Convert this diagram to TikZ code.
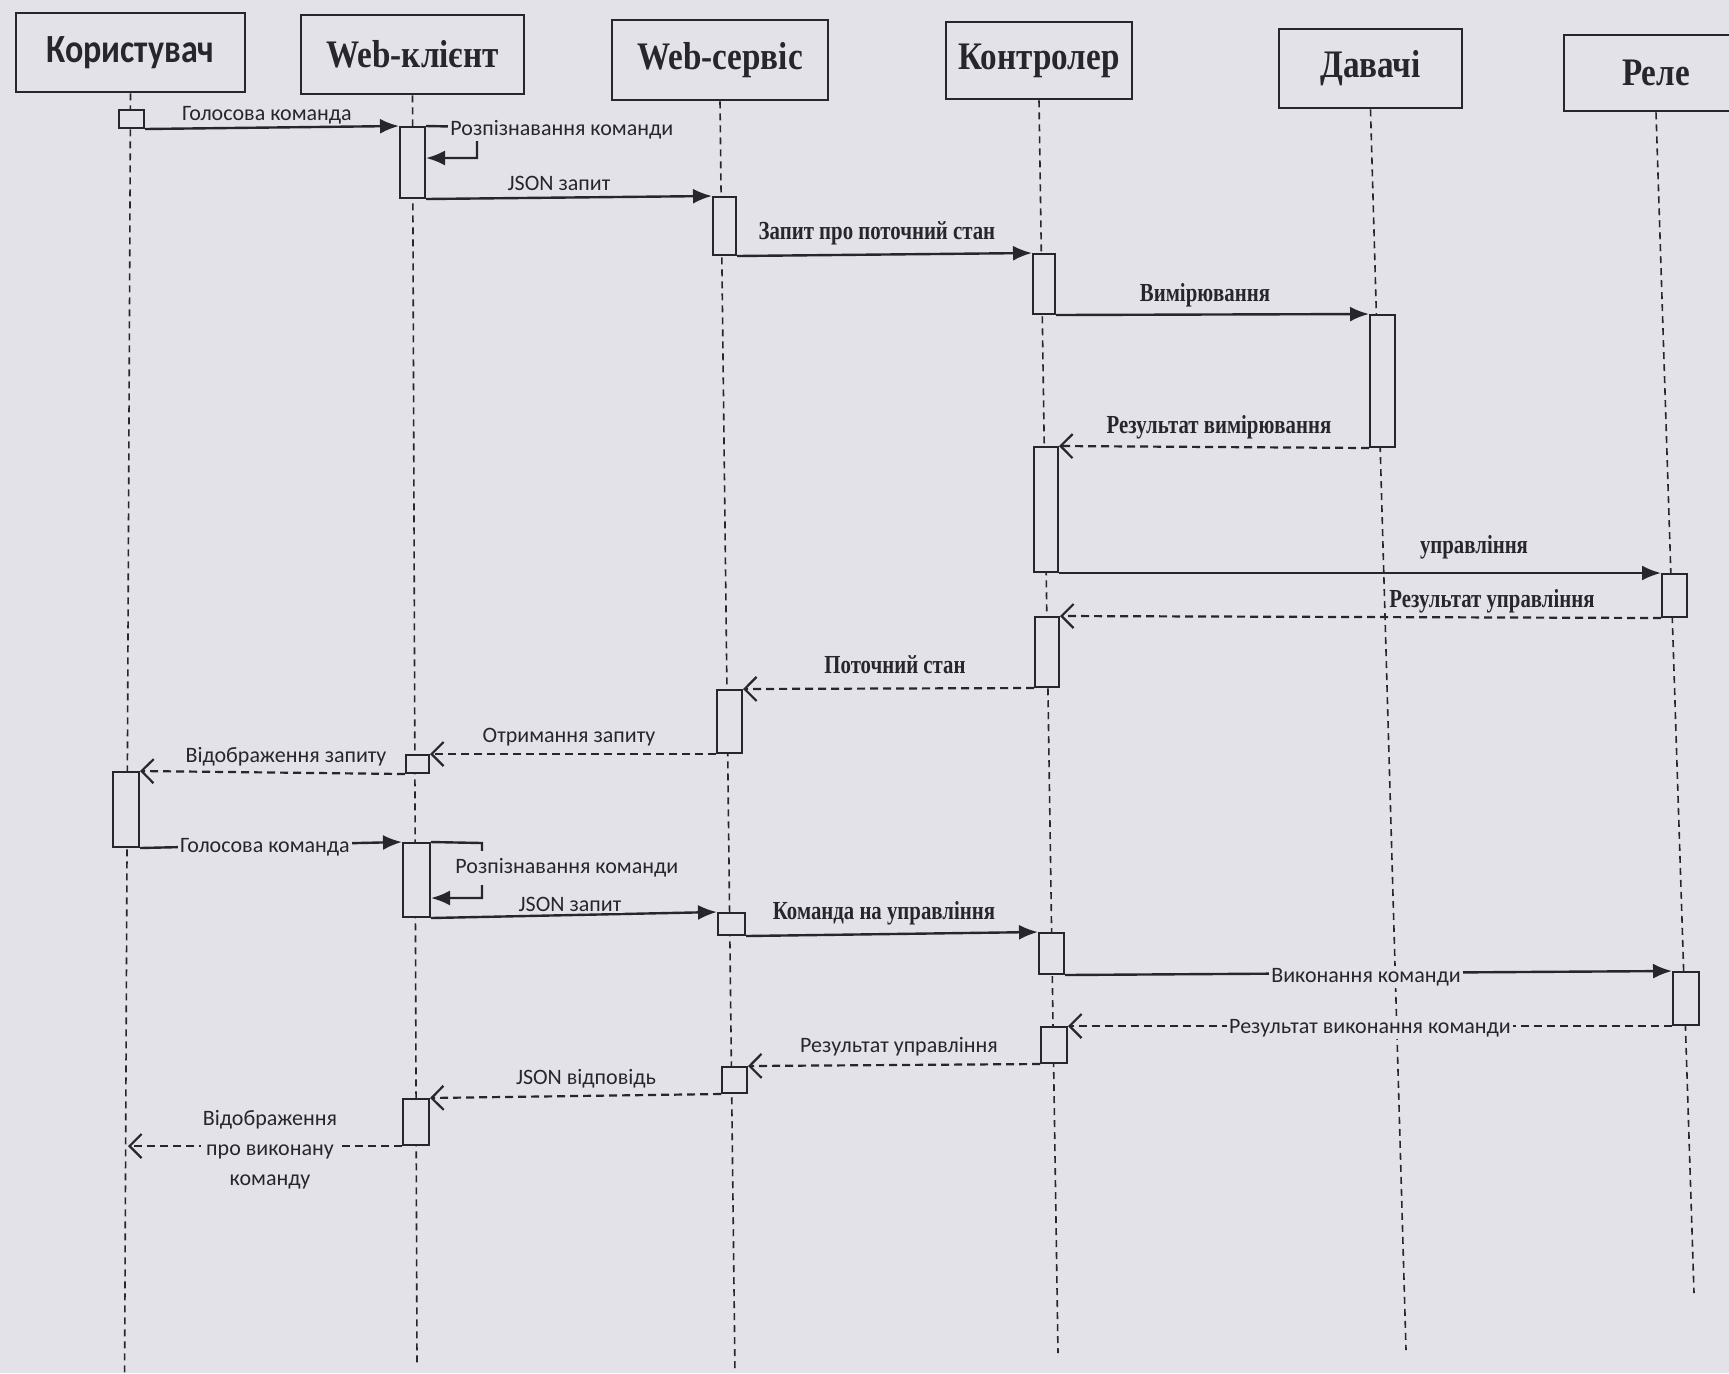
\documentclass[tikz,border=0pt]{standalone}
\usepackage{fontspec}
\setmainfont{Liberation Serif}
\newfontfamily\hdrserif[FakeStretch=0.85]{Liberation Serif}
\newfontfamily\hdrsans[FakeStretch=0.85]{Carlito}
\newfontfamily\lblsans{Carlito}
\newfontfamily\lblserif[FakeStretch=0.8]{Liberation Serif}
\usetikzlibrary{arrows.meta,fit}

\definecolor{paper}{RGB}{227,226,233}
\definecolor{ink}{RGB}{38,38,44}

\tikzset{
  hdr/.style={draw=ink, line width=1.3pt, fill=paper, inner sep=0pt, text=ink},
  hdrs/.style={hdr, font=\hdrsans\bfseries\fontsize{20}{22}\selectfont},
  hdrt/.style={hdr, font=\hdrserif\bfseries\fontsize{19.5}{22}\selectfont},
  act/.style={draw=ink, line width=1pt, fill=paper, inner sep=0pt},
  life/.style={draw=ink, line width=0.8pt, dash pattern=on 3.5pt off 2.5pt},
  call/.style={draw=ink, line width=1.2pt, -{Latex[length=9.5pt,width=7.5pt]}},
  reply/.style={draw=ink, line width=1.1pt, dash pattern=on 4pt off 2.5pt,
                -{Straight Barb[length=6pt,width=12pt]}},
  tsans/.style={font=\lblsans\fontsize{11}{15}\selectfont, text=ink, inner sep=1pt},
  tserif/.style={font=\lblserif\bfseries\fontsize{13}{15}\selectfont, text=ink, inner sep=1pt},
  onl/.style={fill=paper},
}

\begin{document}
\begin{tikzpicture}[x=0.5pt,y=-0.5pt]
\useasboundingbox (0,0) rectangle (1729,1373);
\clip (0,0) rectangle (1729,1373);
\fill[paper] (0,0) rectangle (1729,1373);

% participants
\node[hdrs, minimum width=114.5pt, minimum height=39.5pt] (hU) at (130.5,52.5) {Користувач};
\node[hdrt, minimum width=111.5pt, minimum height=39.5pt] (hC) at (412.5,54.5) {Web-клієнт};
\node[hdrt, minimum width=108pt, minimum height=40pt]     (hS) at (720,60) {Web-сервіс};
\node[hdrt, minimum width=93pt, minimum height=38.5pt]    (hK) at (1039,60.5) {Контролер};
\node[hdrt, minimum width=91.5pt, minimum height=39.5pt]  (hD) at (1370.5,68.5) {Давачі};
\node[hdrt, minimum width=92pt, minimum height=38pt]      (hR) at (1656,73) {Реле};

% lifelines
\coordinate (uBot) at (124.6,1373);
\coordinate (cBot) at (417,1363);
\coordinate (sBot) at (735,1373);
\coordinate (kBot) at (1058,1353);
\coordinate (dBot) at (1406,1350);
\coordinate (rBot) at (1694,1293);
\draw[life] (hU.south) -- (uBot);
\draw[life] (hC.south) -- (cBot);
\draw[life] (hS.south) -- (sBot);
\draw[life] (hK.south) -- (kBot);
\draw[life] (hD.south) -- (dBot);
\draw[life] (hR.south) -- (rBot);

% activation bars
\node[act, fit={(119,110) (144,128)}]   (aU1) {};
\node[act, fit={(400,127) (425,198)}]   (aC1) {};
\node[act, fit={(713,197) (736,255)}]   (aS1) {};
\node[act, fit={(1033,254) (1055,314)}] (aK1) {};
\node[act, fit={(1370,315) (1395,447)}] (aD1) {};
\node[act, fit={(1034,447) (1058,572)}] (aK2) {};
\node[act, fit={(1662,574) (1687,617)}] (aR1) {};
\node[act, fit={(1035,617) (1059,687)}] (aK3) {};
\node[act, fit={(717,690) (742,753)}]   (aS2) {};
\node[act, fit={(406,755) (429,773)}]   (aC2) {};
\node[act, fit={(113,772) (139,847)}]   (aU2) {};
\node[act, fit={(403,843) (430,917)}]   (aC3) {};
\node[act, fit={(718,913) (745,935)}]   (aS3) {};
\node[act, fit={(1039,933) (1064,974)}] (aK4) {};
\node[act, fit={(1673,972) (1699,1025)}] (aR2) {};
\node[act, fit={(1041,1027) (1067,1063)}] (aK5) {};
\node[act, fit={(722,1067) (747,1093)}] (aS4) {};
\node[act, fit={(403,1099) (429,1145)}] (aC4) {};

% self-call corners and free end
\coordinate (s1a) at (477,127);
\coordinate (s1b) at (477,158);
\coordinate (s2a) at (482,843);
\coordinate (s2b) at (482,898);
\coordinate (uEnd) at (128,1146);

% messages
\draw[call]  (aU1.south east) -- (aC1.north west);
\draw[call]  (aC1.north east) -- (s1a) -- (s1b) -- (aC1.east |- s1b);
\draw[call]  (aC1.south east) -- (aS1.north west);
\draw[call]  (aS1.south east) -- (aK1.north west);
\draw[call]  (aK1.south east) -- (aD1.north west);
\draw[reply] (aD1.south west) -- (aK2.north east);
\draw[call]  (aK2.south east) -- (aR1.north west);
\draw[reply] (aR1.south west) -- (aK3.north east);
\draw[reply] (aK3.south west) -- (aS2.north east);
\draw[reply] (aS2.south west) -- (aC2.north east);
\draw[reply] (aC2.south west) -- (aU2.north east);
\draw[call]  (aU2.south east) -- (aC3.north west);
\draw[call]  (aC3.north east) -- (s2a) -- (s2b) -- (aC3.east |- s2b);
\draw[call]  (aC3.south east) -- (aS3.north west);
\draw[call]  (aS3.south east) -- (aK4.north west);
\draw[call]  (aK4.south east) -- (aR2.north west);
\draw[reply] (aR2.south west) -- (aK5.north east);
\draw[reply] (aK5.south west) -- (aS4.north east);
\draw[reply] (aS4.south west) -- (aC4.north east);
\draw[reply] (aC4.south west) -- (uEnd);

% message labels
\node[tsans] (m1) at (267,115) {Голосова команда};
\node[tsans, onl, anchor=west] (m2) at (448,130) {Розпізнавання команди};
\node[tsans] (m3) at (559,183) {JSON запит};
\node[tserif] (m4) at (877,233) {Запит про поточний стан};
\node[tserif] (m5) at (1205,295) {Вимірювання};
\node[tserif] (m6) at (1219,427) {Результат вимірювання};
\node[tserif] (m7) at (1474,547) {управління};
\node[tserif] (m8) at (1492,601) {Результат управління};
\node[tserif] (m9) at (895,665) {Поточний стан};
\node[tsans] (m10) at (569,737) {Отримання запиту};
\node[tsans] (m11) at (286,757) {Відображення запиту};
\node[tsans, onl] (m12) at (265,847) {Голосова команда};
\node[tsans, onl, anchor=west, inner ysep=4pt] (m13) at (453,868) {Розпізнавання команди};
\node[tsans, onl] (m14) at (570,904) {JSON запит};
\node[tserif] (m15) at (884,913) {Команда на управління};
\node[tsans, onl] (m16) at (1366,977) {Виконання команди};
\node[tsans, onl] (m17) at (1370,1028) {Результат виконання команди};
\node[tsans] (m18) at (899,1047) {Результат управління};
\node[tsans] (m19) at (586,1079) {JSON відповідь};
\node[tsans, onl, align=center] (m20) at (270,1150) {Відображення\\про виконану\\команду};
\end{tikzpicture}
\end{document}
